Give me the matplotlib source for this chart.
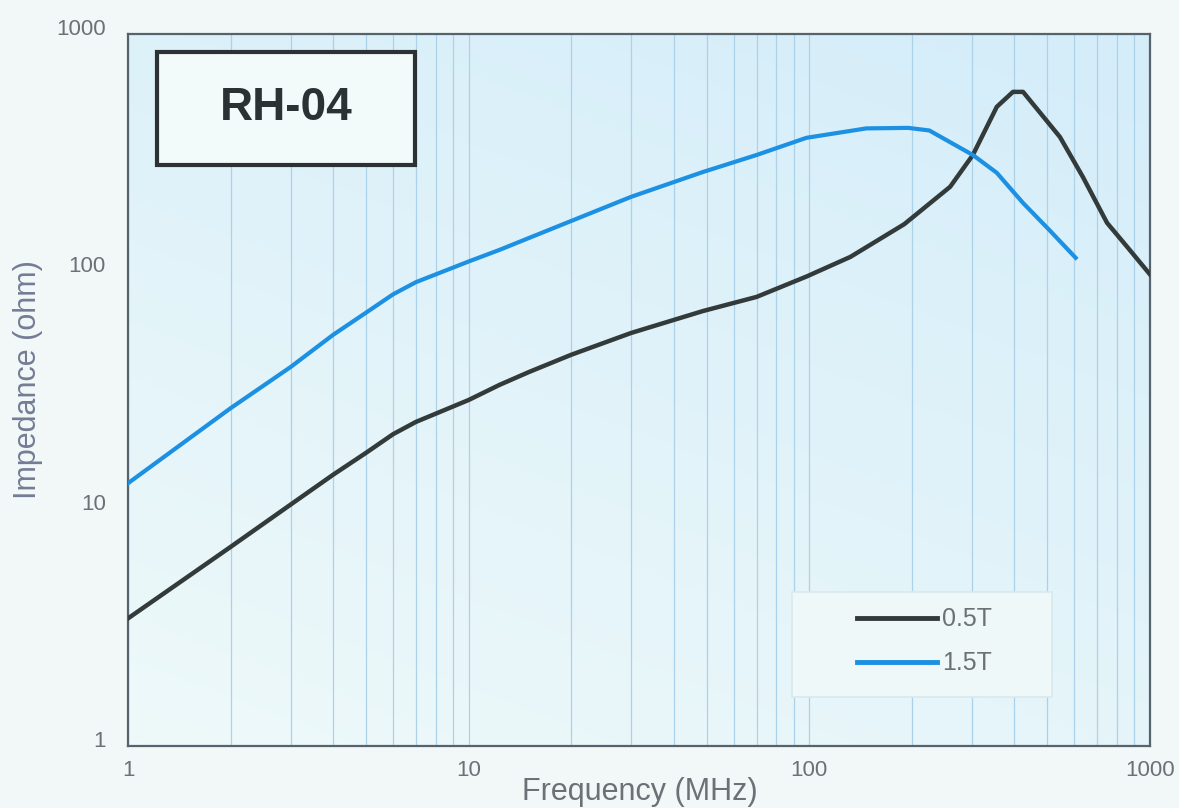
import numpy as np
import matplotlib
matplotlib.use("Agg")
import matplotlib.pyplot as plt
import matplotlib.transforms as mtransforms
from matplotlib.colors import LinearSegmentedColormap
from matplotlib.patches import Rectangle

plt.rcParams["font.family"] = ["Liberation Sans", "DejaVu Sans"]

# frequency (MHz) / impedance (ohm)
freq_05t = [1, 2, 3, 4, 5, 6, 7, 10, 12.3, 15, 20, 30, 48.7, 70, 98, 132,
            190, 259, 302, 355, 396, 424, 544, 635, 748, 856, 1000]
imp_05t = [3.45, 6.9, 10.4, 13.9, 17.2, 20.6, 23.2, 28.7, 33.2, 37.6, 44.5, 55,
           68, 78, 95, 115, 158, 227, 309, 493, 570, 570, 368, 250, 160, 127, 97]

freq_15t = [1, 2, 3, 4, 5, 6, 7, 10, 12.3, 15, 30, 48.7, 70, 98, 147, 195,
            225, 302, 355, 424, 507, 605]
imp_15t = [12.8, 26.5, 39.5, 54, 67, 80, 90, 110, 123, 138, 206, 262, 309,
           365, 400, 402, 392, 309, 260, 194, 149, 114]

series_labels = ["0.5T", "1.5T"]
title_text = "RH-04"

text_gray = "#6b7176"

fig = plt.figure(figsize=(11.79, 8.08), dpi=100)
fig.patch.set_facecolor("#f1f8f7")
ax = fig.add_axes([0.1086, 0.0767, 0.8668, 0.8813])
ax.set_xscale("log")
ax.set_yscale("log")
ax.set_xlim(1, 1000)
ax.set_ylim(1, 1000)

# gradient background: pale at bottom-left, light blue at top-right
cmap = LinearSegmentedColormap.from_list("bg", ["#eef9f9", "#d4edfa"])
gx, gy = np.meshgrid(np.linspace(0, 1, 200), np.linspace(0, 1, 200))
ax.imshow(0.35 * gx + 0.65 * gy, cmap=cmap, origin="lower", aspect="auto",
          extent=(0, 1, 0, 1), transform=ax.transAxes, zorder=0)

ax.grid(True, which="both", axis="x", color="#acd2ea", lw=0.9, zorder=1)
ax.grid(False, axis="y")

ax.plot(freq_05t, imp_05t, color="#333a3a", lw=3.2, label=series_labels[0],
        zorder=3, solid_joinstyle="round")
ax.plot(freq_15t, imp_15t, color="#1c90e2", lw=3.0, label=series_labels[1],
        zorder=3, solid_joinstyle="round")

for side in ["left", "bottom", "top", "right"]:
    ax.spines[side].set_color("#56626c")
    ax.spines[side].set_linewidth(1.6)

ax.tick_params(which="both", length=0)
ax.set_xticks([1, 10, 100, 1000])
ax.set_xticklabels(["1", "10", "100", "1000"])
ax.set_yticks([1, 10, 100, 1000])
ax.set_yticklabels(["1", "10", "100", "1000"])
ax.tick_params(axis="x", pad=10, labelsize=16, labelcolor=text_gray)
ax.tick_params(axis="y", pad=16, labelsize=16, labelcolor=text_gray)
# y tick labels sit a little above their decade in the reference
shift_up = mtransforms.ScaledTranslation(0, 0.07, fig.dpi_scale_trans)
for lab in ax.get_yticklabels():
    lab.set_transform(lab.get_transform() + shift_up)

ax.set_xlabel("Frequency (MHz)", fontsize=22, color=text_gray)
ax.xaxis.set_label_coords(0.501, -0.043)
ax.set_ylabel("Impedance (ohm)", fontsize=22, color="#757c96")
ax.yaxis.set_label_coords(-0.083, 0.514)

# title box
ax.add_patch(Rectangle((0.0284, 0.816), 0.2524, 0.1587, transform=ax.transAxes,
                       fc="#f3fafa", ec="#2c3234", lw=3.0, zorder=5))
ax.text(0.1546, 0.896, title_text, transform=ax.transAxes, fontsize=33,
        fontweight="bold", color="#2c3234", ha="center", va="center", zorder=6)

# legend frame + entries
ax.add_patch(Rectangle((0.650, 0.0688), 0.254, 0.1475, transform=ax.transAxes,
                       fc="#eef8f9", ec="#d8e9ee", lw=1.2, zorder=4))
leg = ax.legend(loc="center", bbox_to_anchor=(0.779, 0.147), fontsize=18,
                handlelength=3.2, handletextpad=0.2, labelspacing=0.8,
                borderpad=0, frameon=False)
leg.set_zorder(6)
for t in leg.get_texts():
    t.set_color(text_gray)
for h in leg.get_lines():
    h.set_linewidth(3.5)

fig.savefig("out.png", dpi=100, facecolor=fig.get_facecolor())
